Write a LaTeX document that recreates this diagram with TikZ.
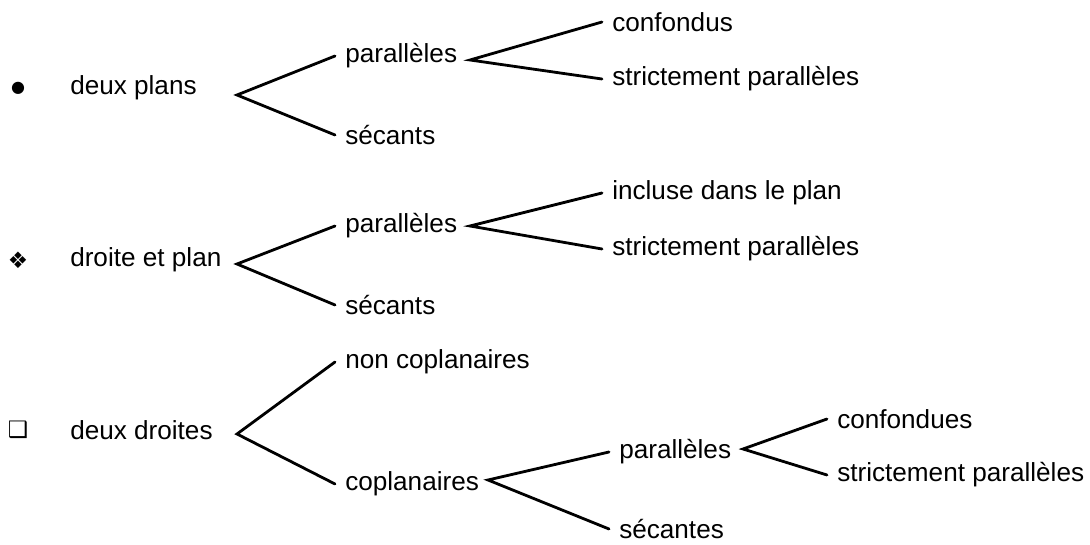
\documentclass[tikz,border=0pt]{standalone}
\usepackage{fontspec}
\setmainfont{Liberation Sans}
\newfontfamily\symfont{DejaVu Sans}
\usetikzlibrary{positioning}

\tikzset{
  lbl/.style={anchor=west, inner xsep=7.5pt, inner ysep=0pt,
    font=\fontsize{19.6}{24}\selectfont},
  puce/.style={inner sep=0pt, font=\symfont\fontsize{17}{17}\selectfont},
  branch/.style={line width=2.1pt, line cap=round, line join=miter},
}

\begin{document}
\begin{tikzpicture}[x=0.75pt, y=-0.75pt]

\useasboundingbox (0,0) rectangle (1090,545);

% deux plans
\node[puce, font=\symfont\fontsize{12}{12}\selectfont] (b1) at (18,88) {●};
\node[lbl] (dp) at (60,88) {deux plans};
\coordinate (f1) at (237,95);
\node[lbl] (p1) at (335,56) {parallèles};
\node[lbl] (s1) at (335,135) {sécants};
\coordinate (f2) at (470,60);
\node[lbl] (c1) at (602,22) {confondus};
\node[lbl] (sp1) at (602,79) {strictement parallèles};

\draw[branch] (p1.west) -- (f1) -- (s1.west);
\draw[branch] (c1.west) -- (f2) -- (sp1.west);

% droite et plan
\node[puce] (b2) at (18,260) {❖};
\node[lbl] (dtp) at (60,260) {droite et plan};
\coordinate (f3) at (237,264);
\node[lbl] (p2) at (335,226) {parallèles};
\node[lbl] (s2) at (335,305) {sécants};
\coordinate (f4) at (470,226);
\node[lbl] (ip) at (602,193) {incluse dans le plan};
\node[lbl] (sp2) at (602,249) {strictement parallèles};

\draw[branch] (p2.west) -- (f3) -- (s2.west);
\draw[branch] (ip.west) -- (f4) -- (sp2.west);

% deux droites
\node[puce] (b3) at (18,430) {❑};
\node[lbl] (dd) at (60,430) {deux droites};
\coordinate (f5) at (237,434);
\node[lbl] (nc) at (335,362) {non coplanaires};
\node[lbl] (cp) at (335,484) {coplanaires};
\coordinate (f6) at (488,480);
\node[lbl] (p3) at (609,452) {parallèles};
\node[lbl] (sc) at (609,529) {sécantes};
\coordinate (f7) at (743,449);
\node[lbl] (c2) at (827,419) {confondues};
\node[lbl] (sp3) at (827,475) {strictement parallèles};

\draw[branch] (nc.west) -- (f5) -- (cp.west);
\draw[branch] (p3.west) -- (f6) -- (sc.west);
\draw[branch] (c2.west) -- (f7) -- (sp3.west);

\end{tikzpicture}
\end{document}
